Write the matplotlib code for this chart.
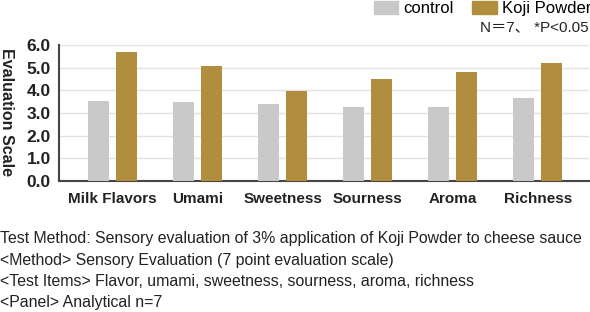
import numpy as np
import matplotlib.pyplot as plt
from matplotlib.patches import Patch

categories = ['Milk Flavors', 'Umami', 'Sweetness', 'Sourness', 'Aroma', 'Richness']
control = [3.54, 3.50, 3.40, 3.25, 3.25, 3.66]
koji = [5.67, 5.09, 3.97, 4.51, 4.81, 5.22]
yticks = [0, 1, 2, 3, 4, 5, 6]
notes = ['Test Method: Sensory evaluation of 3% application of Koji Powder to cheese sauce',
         '<Method> Sensory Evaluation (7 point evaluation scale)',
         '<Test Items> Flavor, umami, sweetness, sourness, aroma, richness',
         '<Panel> Analytical n=7']

grey = '#c9c9c9'
gold = '#b08e3d'
dark = '#4a4343'

plt.rcParams['font.family'] = ['Liberation Sans', 'Noto Sans CJK JP', 'DejaVu Sans']

fig = plt.figure(figsize=(5.9, 3.12), dpi=100)
ax = fig.add_axes([0.1, 0.42, 0.898, 0.436])

x = np.arange(len(categories))
w = 0.245
ax.bar(x - 0.165, control, w, color=grey, zorder=3)
ax.bar(x + 0.165, koji, w, color=gold, zorder=3)

ax.set_xlim(-0.63, 5.6)
ax.set_ylim(0, 6)
ax.set_yticks(yticks)
ax.set_yticklabels(['%.1f' % v for v in yticks], fontsize=12.5, fontweight='bold', color='#222222')
ax.set_xticks(x)
ax.set_xticklabels(categories, fontsize=11, fontweight='bold', color='#222222')
ax.tick_params(axis='y', length=0, pad=6)
ax.tick_params(axis='x', length=0, pad=8)
ax.grid(axis='y', color='#e2e2e2', linewidth=1, zorder=0)
for s in ['top', 'right']:
    ax.spines[s].set_visible(False)
for s in ['left', 'bottom']:
    ax.spines[s].set_color(dark)
    ax.spines[s].set_linewidth(1.5)

fig.text(0.011, 0.64, 'Evaluation Scale', rotation=270, ha='center', va='center',
         fontsize=11.5, fontweight='bold', color='#222222')

handles = [Patch(color=grey, label='control'), Patch(color=gold, label='Koji Powder')]
fig.legend(handles=handles, loc='upper right', bbox_to_anchor=(1.003, 1.0), ncol=2,
           frameon=False, fontsize=12, handlelength=1.45, handleheight=0.8,
           handletextpad=0.3, columnspacing=1.15, borderaxespad=0, borderpad=0.05)
fig.text(0.998, 0.913, 'N＝7、 *P<0.05', ha='right', va='center', fontsize=11, color='#222222')

for i, line in enumerate(notes):
    fig.text(0.0, 1 - (239 + i * 21.3) / 312, line, ha='left', va='center', fontsize=11.4,
             color='#222222')

fig.savefig('out.png', dpi=100)
